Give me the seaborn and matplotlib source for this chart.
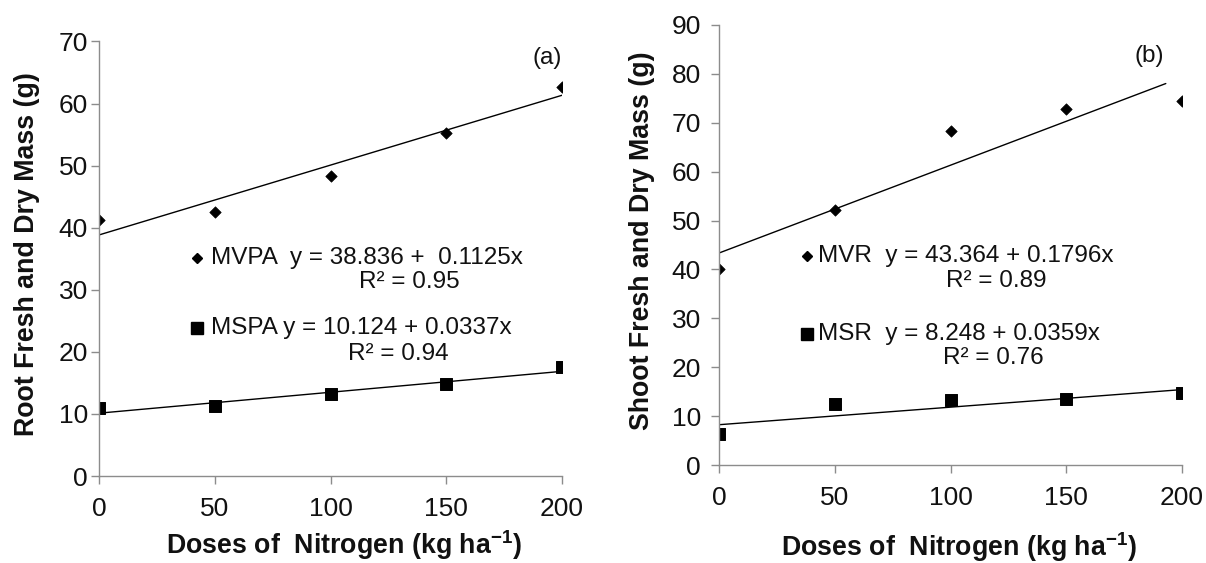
import matplotlib
matplotlib.use('Agg')
import matplotlib.pyplot as plt
import seaborn as sns
import pandas as pd

# Doses of nitrogen (kg ha-1)
doses = [0, 50, 100, 150, 200]

# (a) root fresh / dry mass
mvpa = [41.2, 42.5, 48.4, 55.3, 62.7]
mspa = [10.9, 11.3, 13.2, 14.8, 17.6]
# (b) shoot fresh / dry mass
mvr = [40.0, 52.2, 68.4, 72.9, 74.4]
msr = [6.4, 12.5, 13.2, 13.6, 14.7]

# fitted trend lines: intercept, slope, r2, x range
fit_mvpa = (38.836, 0.1125, 0.95, [0, 200])
fit_mspa = (10.124, 0.0337, 0.94, [0, 200])
fit_mvr = (43.364, 0.1796, 0.89, [0, 193])
fit_msr = (8.248, 0.0359, 0.76, [0, 200])

sns.set_theme(style="ticks")
plt.rcParams['font.family'] = ['Liberation Sans', 'DejaVu Sans']
plt.rcParams['mathtext.fontset'] = 'custom'
plt.rcParams['mathtext.rm'] = 'Liberation Sans'
plt.rcParams['mathtext.bf'] = 'Liberation Sans:bold'

fig = plt.figure(figsize=(12.06, 5.63), dpi=100)
ax1 = fig.add_axes([0.0821, 0.1545, 0.3839, 0.7718])
ax2 = fig.add_axes([0.5962, 0.1740, 0.3839, 0.7816])

txt = '#111111'
axis_col = '#8c8c8c'
ann_size = 17.5
tick_size = 19
lab_size = 19.3
xlab = r'Doses of  Nitrogen (kg ha$^{\mathbf{-1}}$)'


def trend(ax, fit):
    a, b, _, xr = fit
    d = pd.DataFrame({'x': xr, 'y': [a + b * v for v in xr]})
    sns.lineplot(data=d, x='x', y='y', ax=ax, color='black', linewidth=1.0)


def style(ax, ymax, ylabel, ypad):
    ax.set_xlim(0, 200)
    ax.set_ylim(0, ymax)
    ax.set_xticks(doses)
    ax.set_yticks(range(0, ymax + 1, 10))
    sns.despine(ax=ax)
    for s in ['left', 'bottom']:
        ax.spines[s].set_color(axis_col)
        ax.spines[s].set_linewidth(1.0)
    ax.tick_params(axis='both', colors=axis_col, labelcolor=txt, labelsize=tick_size,
                   length=6, width=1.0, direction='out')
    ax.tick_params(axis='x', pad=9)
    ax.tick_params(axis='y', pad=ypad)
    ax.set_ylabel(ylabel, fontsize=lab_size, fontweight='bold', color=txt)
    ax.set_xlabel(xlab, fontsize=lab_size, fontweight='bold', color=txt)
    ax.xaxis.label.set_va('center')
    ax.yaxis.label.set_va('center')


# --- (a) ---
sns.scatterplot(x=doses, y=mvpa, ax=ax1, marker='D', s=34, color='black', edgecolor='black')
sns.scatterplot(x=doses, y=mspa, ax=ax1, marker='s', s=75, color='black', edgecolor='black')
trend(ax1, fit_mvpa)
trend(ax1, fit_mspa)
style(ax1, 70, 'Root Fresh and Dry Mass (g)', 2)
ax1.yaxis.set_label_coords(-0.155, 0.51)
ax1.xaxis.set_label_coords(0.529, -0.159)

ax1.plot([42.5], [35.2], marker='D', ms=5.5, color='black', clip_on=False)
ax1.text(48.3, 35.2, 'MVPA  y = 38.836 +  0.1125x', fontsize=ann_size, color=txt, va='center')
ax1.text(134, 31.2, 'R\u00b2 = 0.95', fontsize=ann_size, color=txt, va='center', ha='center')
ax1.plot([42.5], [23.9], marker='s', ms=8, color='black', clip_on=False)
ax1.text(48.3, 23.9, 'MSPA y = 10.124 + 0.0337x', fontsize=ann_size, color=txt, va='center')
ax1.text(129.5, 19.6, 'R\u00b2 = 0.94', fontsize=ann_size, color=txt, va='center', ha='center')
ax1.text(193.5, 67.4, '(a)', fontsize=ann_size, color=txt, va='center', ha='center')

# --- (b) ---
sns.scatterplot(x=doses, y=mvr, ax=ax2, marker='D', s=34, color='black', edgecolor='black')
sns.scatterplot(x=doses, y=msr, ax=ax2, marker='s', s=75, color='black', edgecolor='black')
trend(ax2, fit_mvr)
trend(ax2, fit_msr)
style(ax2, 90, 'Shoot Fresh and Dry Mass (g)', 7)
ax2.yaxis.set_label_coords(-0.166, 0.51)
ax2.xaxis.set_label_coords(0.518, -0.186)

ax2.plot([37.8], [42.7], marker='D', ms=5.5, color='black', clip_on=False)
ax2.text(42.8, 42.7, 'MVR  y = 43.364 + 0.1796x', fontsize=ann_size, color=txt, va='center')
ax2.text(119.6, 37.6, 'R\u00b2 = 0.89', fontsize=ann_size, color=txt, va='center', ha='center')
ax2.plot([37.8], [26.9], marker='s', ms=8, color='black', clip_on=False)
ax2.text(42.8, 26.9, 'MSR  y = 8.248 + 0.0359x', fontsize=ann_size, color=txt, va='center')
ax2.text(118.3, 21.8, 'R\u00b2 = 0.76', fontsize=ann_size, color=txt, va='center', ha='center')
ax2.text(186, 83.6, '(b)', fontsize=ann_size, color=txt, va='center', ha='center')

fig.savefig('out.png', dpi=100)
